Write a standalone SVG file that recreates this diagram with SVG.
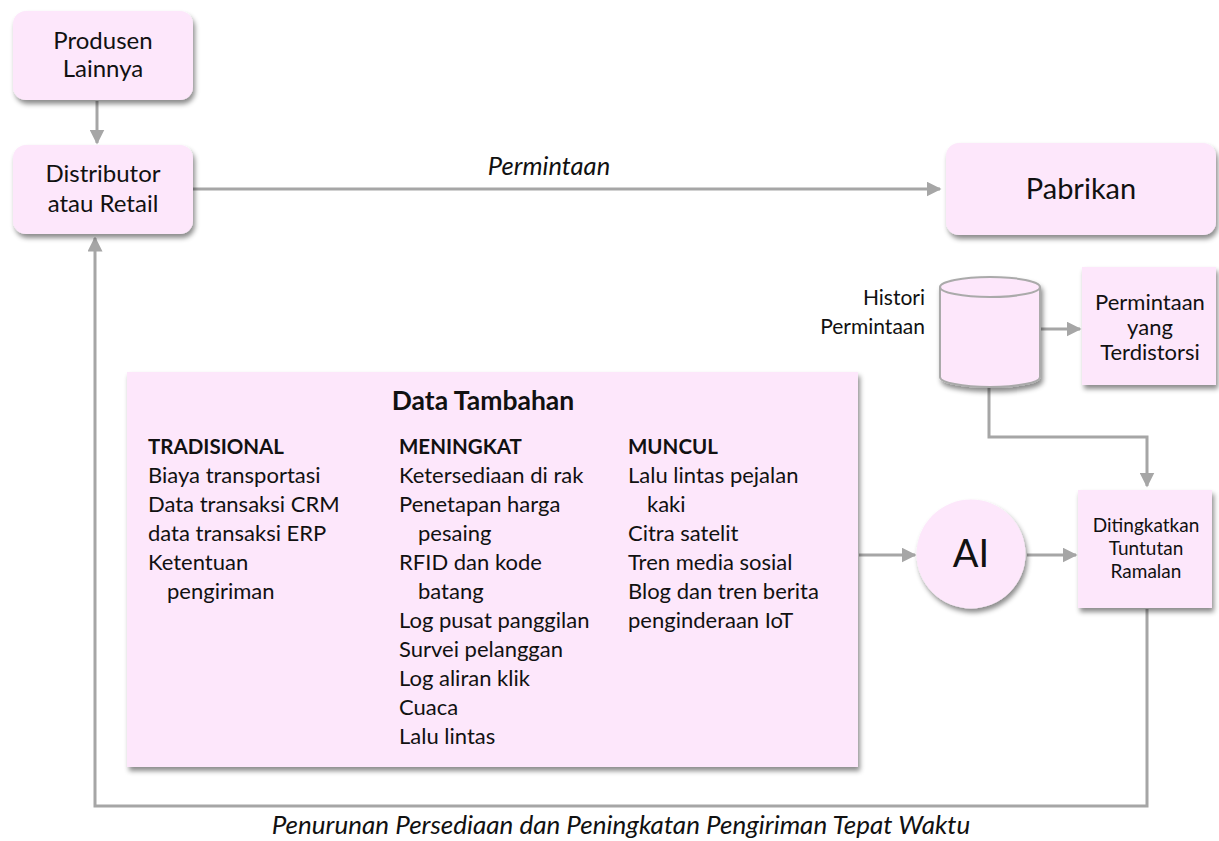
<svg xmlns="http://www.w3.org/2000/svg" width="1219" height="841" viewBox="0 0 1219 841">
  <defs>
    <filter id="shadow" x="-10%" y="-10%" width="125%" height="130%">
      <feDropShadow dx="2" dy="4" stdDeviation="2.5" flood-color="#000" flood-opacity="0.45"/>
    </filter>
    <marker id="arrow" viewBox="0 0 10 10" refX="9" refY="5" markerWidth="5" markerHeight="5" orient="auto" markerUnits="strokeWidth">
      <path d="M0,0 L10,5 L0,10 z" fill="#A6A6A6"/>
    </marker>
    <style>
      .node { fill: #FDE7FB; filter: url(#shadow); }
      .txt { font-family: Lato, "Open Sans", "Liberation Sans", sans-serif; fill: #111; }
      .c { text-anchor: middle; }
      .conn { fill: none; stroke: #A6A6A6; stroke-width: 3; }
      .list { font-size: 22px; }
      .head { font-size: 20.5px; font-weight: bold; }
    </style>
  </defs>

  <rect width="1219" height="841" fill="#FFFFFF"/>

  <!-- connectors -->
  <g id="connectors">
    <line class="conn" x1="97" y1="101" x2="97" y2="143" marker-end="url(#arrow)"/>
    <line class="conn" x1="193" y1="189" x2="940" y2="189" marker-end="url(#arrow)"/>
    <line class="conn" x1="1041" y1="329" x2="1080" y2="329" marker-end="url(#arrow)"/>
    <polyline class="conn" points="989,387 989,437 1147,437 1147,486" marker-end="url(#arrow)"/>
    <line class="conn" x1="859" y1="555" x2="915" y2="555" marker-end="url(#arrow)"/>
    <line class="conn" x1="1027" y1="555" x2="1076" y2="555" marker-end="url(#arrow)"/>
    <polyline class="conn" points="1147,609 1147,806 95,806 95,238" marker-end="url(#arrow)"/>
  </g>

  <!-- connector labels -->
  <text class="txt c" x="549" y="175" font-size="25.5" font-style="italic">Permintaan</text>
  <text class="txt c" x="621" y="834" font-size="26" font-style="italic">Penurunan Persediaan dan Peningkatan Pengiriman Tepat Waktu</text>

  <g id="produsen">
    <rect class="node" x="13" y="11" width="180" height="89" rx="13"/>
    <text class="txt c" x="103" y="49" font-size="24">Produsen</text>
    <text class="txt c" x="103" y="77" font-size="24">Lainnya</text>
  </g>

  <g id="distributor">
    <rect class="node" x="13" y="145" width="180" height="89" rx="13"/>
    <text class="txt c" x="103" y="182" font-size="24">Distributor</text>
    <text class="txt c" x="103" y="212" font-size="24">atau Retail</text>
  </g>

  <g id="pabrikan">
    <rect class="node" x="946" y="143" width="270" height="92" rx="13"/>
    <text class="txt c" x="1081" y="199" font-size="29">Pabrikan</text>
  </g>

  <g id="histori">
    <text class="txt" x="925" y="305" font-size="21" text-anchor="end">Histori</text>
    <text class="txt" x="925" y="334" font-size="21" text-anchor="end">Permintaan</text>
    <g filter="url(#shadow)">
      <path d="M940,287 L940,377 A50,10 0 0 0 1040,377 L1040,287" fill="#FDE7FB" stroke="#AAAAAA" stroke-width="2"/>
      <ellipse cx="990" cy="287" rx="50" ry="10" fill="#FDE7FB" stroke="#AAAAAA" stroke-width="2"/>
    </g>
  </g>

  <g id="terdistorsi">
    <rect class="node" x="1082" y="267" width="134" height="118"/>
    <text class="txt c" x="1150" y="310" font-size="22">Permintaan</text>
    <text class="txt c" x="1150" y="335" font-size="22">yang</text>
    <text class="txt c" x="1150" y="360" font-size="22">Terdistorsi</text>
  </g>

  <g id="ai">
    <circle class="node" cx="971" cy="554" r="54.5"/>
    <text class="txt c" x="971" y="567" font-size="38">AI</text>
  </g>

  <g id="ramalan">
    <rect class="node" x="1078" y="490" width="134" height="118"/>
    <text class="txt c" x="1146" y="532" font-size="19">Ditingkatkan</text>
    <text class="txt c" x="1146" y="555" font-size="19">Tuntutan</text>
    <text class="txt c" x="1146" y="578" font-size="19">Ramalan</text>
  </g>

  <g id="data-tambahan">
    <rect class="node" x="127" y="372" width="731" height="395"/>
    <text class="txt c" x="483" y="410" font-size="26.5" font-weight="bold">Data Tambahan</text>

    <text class="txt head" x="148" y="454">TRADISIONAL</text>
    <text class="txt list" x="148" y="483">Biaya transportasi</text>
    <text class="txt list" x="148" y="512">Data transaksi CRM</text>
    <text class="txt list" x="148" y="541">data transaksi ERP</text>
    <text class="txt list" x="148" y="570">Ketentuan</text>
    <text class="txt list" x="167" y="599">pengiriman</text>

    <text class="txt head" x="399" y="454">MENINGKAT</text>
    <text class="txt list" x="399" y="483">Ketersediaan di rak</text>
    <text class="txt list" x="399" y="512">Penetapan harga</text>
    <text class="txt list" x="418" y="541">pesaing</text>
    <text class="txt list" x="399" y="570">RFID dan kode</text>
    <text class="txt list" x="418" y="599">batang</text>
    <text class="txt list" x="399" y="628">Log pusat panggilan</text>
    <text class="txt list" x="399" y="657">Survei pelanggan</text>
    <text class="txt list" x="399" y="686">Log aliran klik</text>
    <text class="txt list" x="399" y="715">Cuaca</text>
    <text class="txt list" x="399" y="744">Lalu lintas</text>

    <text class="txt head" x="628" y="454">MUNCUL</text>
    <text class="txt list" x="628" y="483">Lalu lintas pejalan</text>
    <text class="txt list" x="647" y="512">kaki</text>
    <text class="txt list" x="628" y="541">Citra satelit</text>
    <text class="txt list" x="628" y="570">Tren media sosial</text>
    <text class="txt list" x="628" y="599">Blog dan tren berita</text>
    <text class="txt list" x="628" y="628">penginderaan IoT</text>
  </g>
</svg>
